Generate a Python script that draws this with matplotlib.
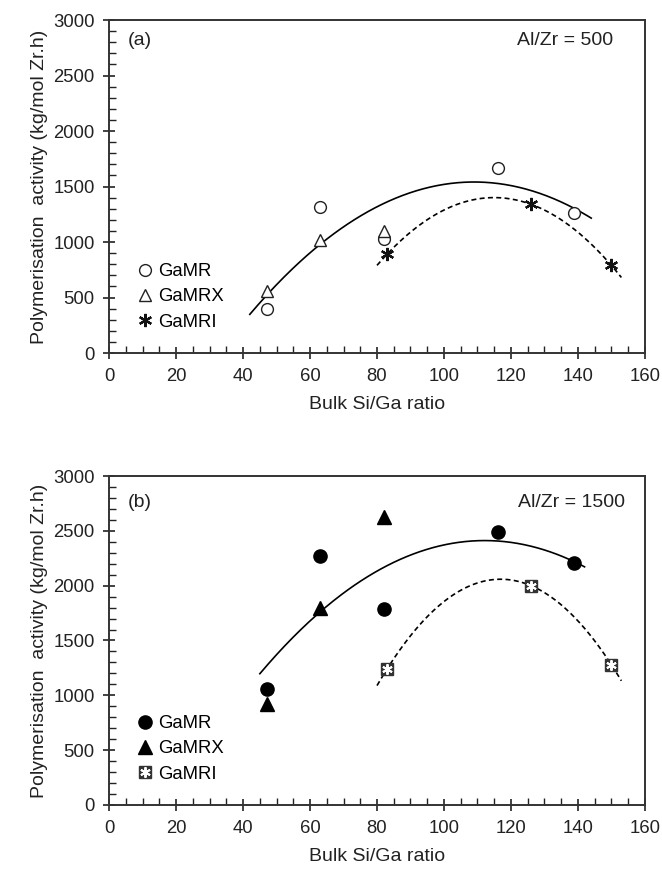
import numpy as np
import matplotlib
matplotlib.use("Agg")
import matplotlib.pyplot as plt
from matplotlib.ticker import MultipleLocator

plt.rcParams['font.family'] = ['Liberation Sans', 'DejaVu Sans']
plt.rcParams['font.size'] = 13.3

# panel (a) Al/Zr = 500
x_gamr = [47, 63, 82, 116, 139]
x_gamrx = [47, 63, 82]
x_gamri = [83, 126, 150]
a_gamr = [400, 1320, 1030, 1665, 1260]
a_gamrx = [560, 1020, 1100]
a_gamri = [890, 1340, 790]

# panel (b) Al/Zr = 1500
b_gamr = [1060, 2270, 1790, 2490, 2210]
b_gamrx = [920, 1800, 2630]
b_gamri = [1240, 2000, 1280]

# trendline ranges
a_solid_range = [42, 144]
a_dash_range = [80, 153]
b_solid_range = [45, 142]
b_dash_range = [80, 153]

fig = plt.figure(figsize=(6.62, 8.71), dpi=100)
ax1 = fig.add_axes([0.165, 0.5947, 0.809, 0.3823])
ax2 = fig.add_axes([0.165, 0.0758, 0.809, 0.3777])


def trend(ax, xs, ys, rng, ls):
    # quadratic trendline, like the spreadsheet one
    c = np.polyfit(xs, ys, 2)
    xx = np.linspace(rng[0], rng[1], 200)
    ax.plot(xx, np.polyval(c, xx), color='black', lw=1.2, ls=ls, zorder=2)


def style(ax, label, ratio, ly, rx):
    ax.set_xlim(0, 160)
    ax.set_ylim(0, 3000)
    ax.xaxis.set_major_locator(MultipleLocator(20))
    ax.xaxis.set_minor_locator(MultipleLocator(5))
    ax.yaxis.set_major_locator(MultipleLocator(500))
    ax.yaxis.set_minor_locator(MultipleLocator(100))
    ax.tick_params(which='major', direction='inout', length=9, width=1.2, colors='#222222')
    ax.tick_params(which='minor', direction='in', length=5, width=1.0, color='#222222')
    ax.tick_params(labelcolor='#222222', pad=6)
    for s in ax.spines.values():
        s.set_linewidth(1.4)
        s.set_color('#333333')
    ax.set_xlabel('Bulk Si/Ga ratio', fontsize=14, labelpad=8, color='#222222')
    ax.set_ylabel('Polymerisation  activity (kg/mol Zr.h)', fontsize=14, labelpad=4, color='#222222')
    ax.text(0.034, ly, label, transform=ax.transAxes, va='center', ha='left', fontsize=14, color='#222222')
    ax.text(rx, ly, ratio, transform=ax.transAxes, va='center', ha='right', fontsize=14, color='#222222')


# (a)
trend(ax1, x_gamr, a_gamr, a_solid_range, '-')
trend(ax1, x_gamri, a_gamri, a_dash_range, (0, (3, 2)))
h1, = ax1.plot(x_gamr, a_gamr, 'o', ms=8.5, mfc='white', mec='#222222', mew=1.0, ls='none', zorder=3)
h2, = ax1.plot(x_gamrx, a_gamrx, '^', ms=8.5, mfc='white', mec='#222222', mew=1.0, ls='none', zorder=3)
h3, = ax1.plot(x_gamri, a_gamri, marker=(6, 2, 0), ms=9.5, mec='#111111', mew=1.6, ls='none', zorder=3)
ax1.legend([h1, h2, h3], ['GaMR', 'GaMRX', 'GaMRI'], loc='lower left', bbox_to_anchor=(0.035, 0.045),
           frameon=False, handletextpad=0.25, labelspacing=0.45, handlelength=1.0, borderaxespad=0.0)
style(ax1, '(a)', 'Al/Zr = 500', 0.94, 0.94)

# (b)
trend(ax2, x_gamr, b_gamr, b_solid_range, '-')
trend(ax2, x_gamri, b_gamri, b_dash_range, (0, (3, 2)))
g1, = ax2.plot(x_gamr, b_gamr, 'o', ms=9.5, mfc='black', mec='black', ls='none', zorder=3)
g2, = ax2.plot(x_gamrx, b_gamrx, '^', ms=9.5, mfc='black', mec='black', ls='none', zorder=3)
g3a, = ax2.plot(x_gamri, b_gamri, 's', ms=8.5, mfc='#333333', mec='#333333', ls='none', zorder=3)
g3b, = ax2.plot(x_gamri, b_gamri, marker=(6, 2, 0), ms=7.5, mec='white', mew=1.4, ls='none', zorder=4)
ax2.legend([g1, g2, (g3a, g3b)], ['GaMR', 'GaMRX', 'GaMRI'], loc='lower left', bbox_to_anchor=(0.035, 0.045),
           frameon=False, handletextpad=0.25, labelspacing=0.45, handlelength=1.0, borderaxespad=0.0)
style(ax2, '(b)', 'Al/Zr = 1500', 0.918, 0.963)

fig.savefig('out.png', dpi=100)
